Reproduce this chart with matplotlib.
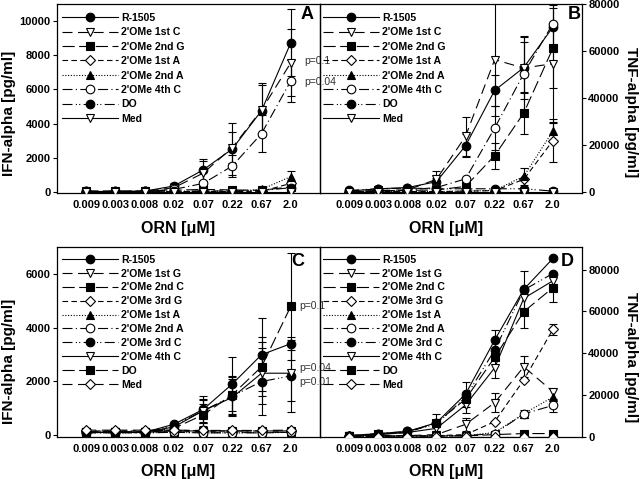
import numpy as np
import matplotlib
matplotlib.use("Agg")
import matplotlib.pyplot as plt

plt.rcParams["font.family"] = ["Liberation Sans", "DejaVu Sans"]
plt.rcParams["font.weight"] = "bold"
plt.rcParams["axes.labelweight"] = "bold"

orn_labels = ["0.009", "0.003", "0.008", "0.02", "0.07", "0.22", "0.67", "2.0"]

labels_ab = ["R-1505", "2'OMe 1st C", "2'OMe 2nd G", "2'OMe 1st A",
             "2'OMe 2nd A", "2'OMe 4th C", "DO", "Med"]
labels_cd = ["R-1505", "2'OMe 1st G", "2'OMe 2nd C", "2'OMe 3rd G", "2'OMe 1st A",
             "2'OMe 2nd A", "2'OMe 3rd C", "2'OMe 4th C", "DO", "Med"]

# Panel A: IFN-alpha (pg/ml)
a_r1505 = [30, 30, 50, 350, 1290, 2520, 4760, 8730]
a_r1505_err = [0, 0, 0, 150, 650, 1500, 1500, 1950]
a_c1 = [20, 20, 40, 250, 1100, 2600, 4800, 7560]
a_c1_err = [0, 0, 0, 0, 700, 900, 1550, 1950]
a_g2 = [60, 60, 60, 100, 150, 120, 100, 300]
a_g2_err = [0, 0, 0, 0, 0, 0, 0, 0]
a_a1 = [10, 10, 10, 20, 30, 30, 40, 500]
a_a1_err = [0, 0, 0, 0, 0, 0, 0, 0]
a_a2 = [10, 10, 10, 20, 30, 30, 150, 900]
a_a2_err = [0, 0, 0, 0, 0, 0, 0, 350]
a_c4 = [20, 20, 40, 150, 500, 1520, 3420, 6500]
a_c4_err = [0, 0, 0, 0, 0, 650, 1100, 1250]
a_do = [30, 30, 30, 50, 60, 60, 80, 250]
a_do_err = [0, 0, 0, 0, 0, 0, 0, 0]
a_med = [10, 10, 10, 10, 10, 10, 10, 10]
a_med_err = [0, 0, 0, 0, 0, 0, 0, 0]

# Panel B: TNF-alpha (pg/ml)
b_r1505 = [500, 1500, 2000, 4500, 19800, 43300, 53000, 70200]
b_r1505_err = [0, 0, 0, 1500, 5000, 6500, 11000, 9800]
b_c1 = [300, 800, 1000, 5500, 23800, 56350, 52800, 54650]
b_c1_err = [0, 0, 0, 3500, 8200, 24000, 13000, 25000]
b_g2 = [200, 500, 800, 1000, 2500, 15600, 33700, 61200]
b_g2_err = [0, 0, 0, 0, 0, 5500, 8800, 17000]
b_a1 = [200, 300, 300, 300, 500, 700, 5500, 21950]
b_a1_err = [0, 0, 0, 0, 0, 0, 0, 9000]
b_a2 = [200, 300, 300, 300, 500, 800, 6800, 26000]
b_a2_err = [0, 0, 0, 0, 0, 0, 3500, 4000]
b_c4 = [300, 500, 1000, 2000, 5700, 27300, 50400, 71700]
b_c4_err = [0, 0, 0, 0, 0, 9500, 16000, 0]
b_do = [800, 1500, 1800, 1500, 1500, 1500, 1500, 500]
b_do_err = [0, 0, 0, 0, 0, 0, 0, 0]
b_med = [100, 100, 100, 100, 100, 100, 100, 100]
b_med_err = [0, 0, 0, 0, 0, 0, 0, 0]

# Panel C: IFN-alpha (pg/ml)
c_r1505 = [100, 100, 100, 400, 950, 1900, 2990, 3400]
c_r1505_err = [0, 0, 0, 0, 500, 1000, 1350, 250]
c_g1 = [100, 100, 100, 150, 120, 100, 100, 100]
c_c2 = [120, 120, 120, 150, 150, 150, 150, 150]
c_g3 = [150, 150, 150, 180, 150, 150, 150, 150]
c_a1 = [80, 80, 80, 100, 80, 80, 80, 100]
c_a2 = [80, 80, 80, 100, 80, 80, 80, 100]
c_c3 = [100, 100, 100, 350, 900, 1450, 1990, 2200]
c_c3_err = [0, 0, 0, 0, 400, 700, 1250, 1350]
c_c4 = [100, 100, 100, 300, 900, 1400, 2300, 2300]
c_c4_err = [0, 0, 0, 0, 450, 700, 1150, 1050]
c_do = [100, 100, 100, 250, 750, 1500, 2540, 4790]
c_do_err = [0, 0, 0, 0, 400, 700, 1100, 2000]
c_med = [180, 180, 180, 180, 170, 170, 170, 180]
c_zero_err = [0, 0, 0, 0, 0, 0, 0, 0]

# Panel D: TNF-alpha (pg/ml)
d_r1505 = [500, 1500, 2500, 6700, 20400, 46300, 70600, 85400]
d_r1505_err = [0, 0, 0, 4000, 6000, 5000, 9000, 0]
d_g1 = [300, 500, 500, 1000, 5900, 16300, 33500, 21600]
d_g1_err = [0, 0, 0, 0, 3000, 4500, 5000, 0]
d_c2 = [200, 300, 300, 300, 400, 1000, 1500, 1500]
d_g3 = [200, 300, 300, 500, 1000, 7200, 27200, 51400]
d_g3_err = [0, 0, 0, 0, 0, 0, 0, 2500]
d_a1 = [200, 300, 300, 300, 500, 2000, 11000, 19000]
d_a2 = [200, 300, 300, 300, 500, 1500, 10900, 15000]
d_a2_err = [0, 0, 0, 0, 0, 0, 2000, 3000]
d_c3 = [500, 1500, 2500, 6000, 19000, 41500, 70300, 78200]
d_c4 = [300, 1000, 2000, 4000, 15200, 33000, 66300, 74700]
d_c4_err = [0, 0, 0, 0, 4000, 5000, 0, 0]
d_do = [400, 1200, 2000, 6700, 18000, 38000, 59900, 71400]
d_do_err = [0, 0, 0, 0, 0, 0, 8000, 7000]
d_med = [0, 0, 0, 0, 0, 0, 0, 0]
d_zero_err = [0, 0, 0, 0, 0, 0, 0, 0]

SOLID = "-"
LONGDASH = (0, (9, 5))
LONGDASH2 = (0, (11, 4))
DASH = (0, (5, 3))
DOT = (0, (1, 1.5))
DASHDOT = (0, (9, 3, 1, 3))
DASHDOTDOT = (0, (9, 3, 1, 2, 1, 3))

styles_ab = [(SOLID, "o", "k"), (LONGDASH, "v", "w"), (LONGDASH2, "s", "k"),
             (DASH, "D", "w"), (DOT, "^", "k"), (DASHDOT, "o", "w"),
             (DASHDOTDOT, "o", "k"), (SOLID, "v", "w")]
styles_cd = [(SOLID, "o", "k"), (LONGDASH, "v", "w"), (LONGDASH2, "s", "k"),
             (DASH, "D", "w"), (DOT, "^", "k"), (DASHDOT, "o", "w"),
             (DASHDOTDOT, "o", "k"), (SOLID, "v", "w"), (LONGDASH2, "s", "k"),
             (LONGDASH, "D", "w")]


def draw_panel(ax, series, labels, styles, ylim, yticks, right, letter,
               ylabel, letter_xy, legend_xy, label_y, xlabel_y, spacing):
    x = np.arange(len(orn_labels))
    for (vals, errs), label, (ls, mk, fc) in zip(series, labels, styles):
        vals = np.asarray(vals, float)
        errs = np.asarray(errs, float)
        has = errs > 0
        if has.any():
            ax.errorbar(x[has], vals[has], yerr=errs[has], fmt="none",
                        ecolor="k", elinewidth=0.8, capsize=3, capthick=0.8,
                        zorder=2)
        ms = 5.2 if mk == "D" else 6.2
        ax.plot(x, vals, linestyle=ls, color="k", lw=0.8, marker=mk, ms=ms,
                mfc=fc, mec="k", mew=0.8, label=label, zorder=3)

    ax.set_xlim(-1, 8)
    ax.set_ylim(*ylim)
    ax.set_xticks(x)
    ax.set_xticklabels(orn_labels)
    ax.set_yticks(yticks)
    ax.set_yticklabels([str(t) for t in yticks])
    ax.tick_params(axis="x", length=0, pad=5, labelsize=8)
    ax.tick_params(axis="y", length=3, width=0.8, pad=1.5, labelsize=8,
                   direction="out")
    if right:
        ax.yaxis.tick_right()
        ax.yaxis.set_label_position("right")
        ax.set_ylabel(ylabel, fontsize=11, rotation=270, va="bottom")
        ax.yaxis.set_label_coords(1.16, label_y)
        ax.set_xlabel("ORN [μM]", fontsize=11.5)
        ax.xaxis.set_label_coords(0.48, xlabel_y)
    else:
        ax.set_ylabel(ylabel, fontsize=11)
        ax.yaxis.set_label_coords(-0.155, label_y)
        ax.set_xlabel("ORN [μM]", fontsize=11.5)
        ax.xaxis.set_label_coords(0.46, xlabel_y)
    for sp in ax.spines.values():
        sp.set_linewidth(0.9)
    ax.text(letter_xy[0], letter_xy[1], letter, transform=ax.transAxes,
            fontsize=13, ha="center", va="center")
    ax.legend(loc="upper left", bbox_to_anchor=legend_xy, frameon=False,
              fontsize=7.6, handlelength=5.3, handletextpad=0.3,
              labelspacing=spacing, borderaxespad=0, borderpad=0)
    ax.patch.set_facecolor("none")


fig = plt.figure(figsize=(6.4, 4.79), dpi=100)
ax_a = fig.add_axes([57 / 640, 1 - 193 / 479, 263 / 640, 189 / 479])
ax_b = fig.add_axes([320 / 640, 1 - 193 / 479, 262 / 640, 189 / 479])
ax_c = fig.add_axes([57 / 640, 1 - 437 / 479, 263 / 640, 190 / 479])
ax_d = fig.add_axes([320 / 640, 1 - 437 / 479, 262 / 640, 190 / 479])

series_a = [(a_r1505, a_r1505_err), (a_c1, a_c1_err), (a_g2, a_g2_err),
            (a_a1, a_a1_err), (a_a2, a_a2_err), (a_c4, a_c4_err),
            (a_do, a_do_err), (a_med, a_med_err)]
series_b = [(b_r1505, b_r1505_err), (b_c1, b_c1_err), (b_g2, b_g2_err),
            (b_a1, b_a1_err), (b_a2, b_a2_err), (b_c4, b_c4_err),
            (b_do, b_do_err), (b_med, b_med_err)]
series_c = [(c_r1505, c_r1505_err), (c_g1, c_zero_err), (c_c2, c_zero_err),
            (c_g3, c_zero_err), (c_a1, c_zero_err), (c_a2, c_zero_err),
            (c_c3, c_c3_err), (c_c4, c_c4_err), (c_do, c_do_err),
            (c_med, c_zero_err)]
series_d = [(d_r1505, d_r1505_err), (d_g1, d_g1_err), (d_c2, d_zero_err),
            (d_g3, d_g3_err), (d_a1, d_zero_err), (d_a2, d_a2_err),
            (d_c3, d_zero_err), (d_c4, d_c4_err), (d_do, d_do_err),
            (d_med, d_zero_err)]

draw_panel(ax_a, series_a, labels_ab, styles_ab, (-60, 11000),
           [0, 2000, 4000, 6000, 8000, 10000], False, "A", "IFN-alpha [pg/ml]",
           (0.95, 0.947), (0.02, 0.953), 0.42, -0.15, 0.42)
draw_panel(ax_b, series_b, labels_ab, styles_ab, (-300, 80000),
           [0, 20000, 40000, 60000, 80000], True, "B", "TNF-alpha [pg/ml]",
           (0.969, 0.947), (0.012, 0.953), 0.43, -0.15, 0.42)
draw_panel(ax_c, series_c, labels_cd, styles_cd, (-75, 7000),
           [0, 2000, 4000, 6000], False, "C", "IFN-alpha [pg/ml]",
           (0.916, 0.926), (0.02, 0.96), 0.40, -0.14, 0.37)
draw_panel(ax_d, series_d, labels_cd, styles_cd, (-150, 90900),
           [0, 20000, 40000, 60000, 80000], True, "D", "TNF-alpha [pg/ml]",
           (0.943, 0.926), (0.012, 0.96), 0.42, -0.14, 0.37)

p_style = dict(fontsize=7.5, fontweight="normal", color="#333333",
               ha="left", va="center", clip_on=False, zorder=5)
ax_a.text(7.45, 7660, "p=0.1", **p_style)
ax_a.text(7.45, 6430, "p=0.04", **p_style)
ax_c.text(7.3, 4800, "p=0.1", **p_style)
ax_c.text(7.3, 2500, "p=0.04", **p_style)
ax_c.text(7.3, 1980, "p=0.01", **p_style)

fig.savefig("out.png", dpi=100, facecolor="white")
